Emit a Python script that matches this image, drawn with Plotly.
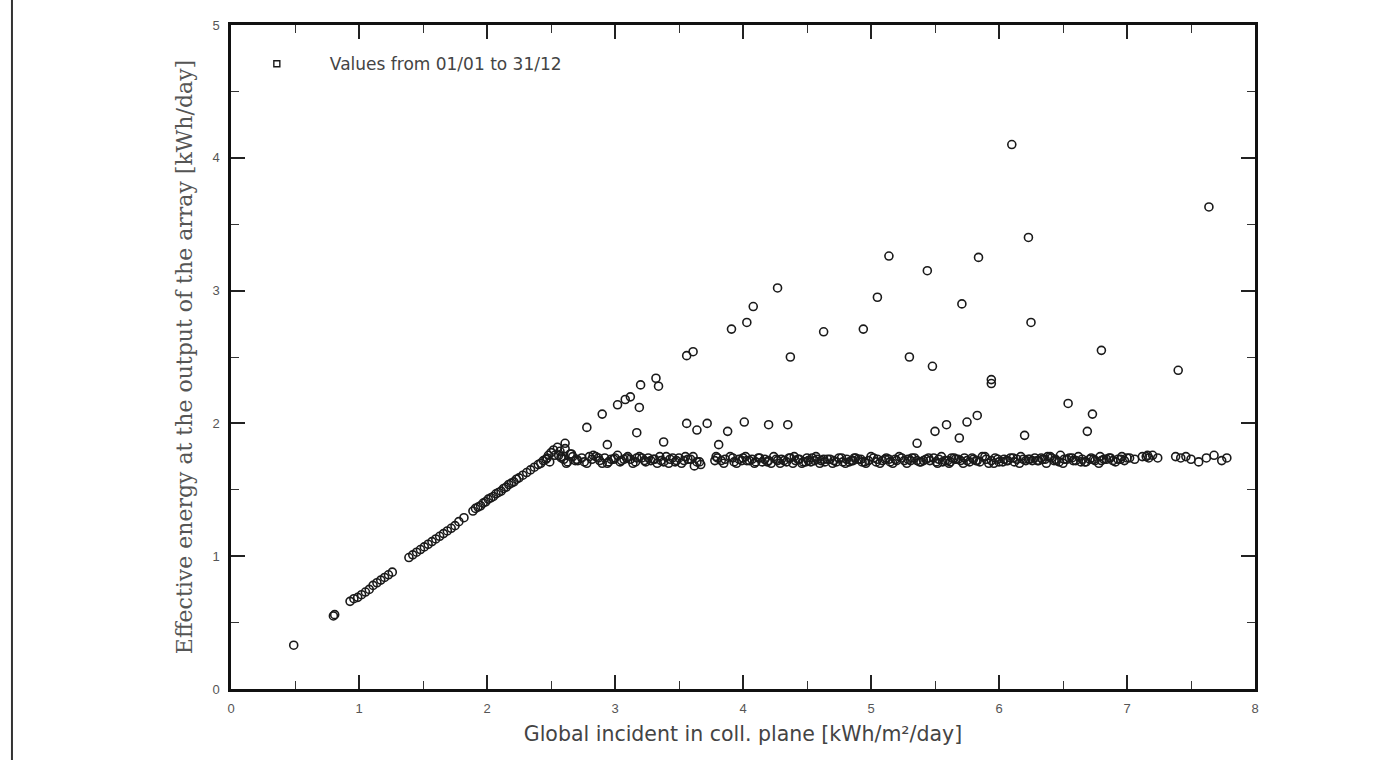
import plotly.graph_objects as go

# Linear (below saturation) part
lin_x = [0.49, 0.80, 0.81, 0.93, 0.96, 0.99, 1.02, 1.05, 1.08, 1.11, 1.14, 1.17, 1.20, 1.23, 1.26,
         1.39, 1.42, 1.45, 1.48, 1.51, 1.54, 1.57, 1.60, 1.63, 1.66, 1.69, 1.72, 1.75, 1.78, 1.82,
         1.89, 1.91, 1.93, 1.95, 1.97, 1.99, 2.01, 2.03, 2.05, 2.07, 2.09, 2.11, 2.13, 2.15, 2.17,
         2.19, 2.21, 2.23, 2.25, 2.28, 2.31, 2.34, 2.37, 2.40, 2.42, 2.44, 2.46, 2.47, 2.48, 2.49]
lin_y = [0.33, 0.55, 0.56, 0.66, 0.68, 0.69, 0.71, 0.73, 0.75, 0.78, 0.80, 0.82, 0.84, 0.86, 0.88,
         0.99, 1.01, 1.03, 1.05, 1.07, 1.09, 1.11, 1.13, 1.15, 1.17, 1.19, 1.21, 1.23, 1.26, 1.29,
         1.34, 1.36, 1.37, 1.38, 1.40, 1.41, 1.43, 1.44, 1.45, 1.47, 1.48, 1.49, 1.51, 1.52, 1.54,
         1.55, 1.56, 1.58, 1.59, 1.61, 1.63, 1.65, 1.67, 1.69, 1.70, 1.72, 1.73, 1.74, 1.76, 1.71]

# Saturation plateau
plat_x = [2.56, 2.60, 2.63, 2.67, 2.71, 2.74, 2.78, 2.82, 2.85, 2.88,
          2.92, 2.95, 2.99, 3.02, 3.05, 3.09, 3.12, 3.16, 3.19, 3.23,
          3.26, 3.30, 3.33, 3.36, 3.40, 3.43, 3.47, 3.50, 3.54, 3.57,
          3.61, 3.64, 3.67, 3.80, 3.83, 3.86, 3.90, 3.93, 3.97, 4.00,
          4.03, 4.07, 4.10, 4.13, 4.17, 4.20, 4.24, 4.27, 4.30, 4.34,
          4.37, 4.41, 4.44, 4.47, 4.51, 4.54, 4.58, 4.61, 4.64, 4.68,
          4.71, 4.75, 4.78, 4.81, 4.85, 4.88, 4.92, 4.95, 4.98, 5.02,
          5.05, 5.09, 5.12, 5.15, 5.19, 5.22, 5.26, 5.29, 5.32, 5.36,
          5.39, 5.43, 5.46, 5.49, 5.53, 5.56, 5.60, 5.63, 5.66, 5.70,
          5.73, 5.77, 5.80, 5.83, 5.87, 5.90, 5.94, 5.97, 6.00, 6.04,
          6.07, 6.11, 6.14, 6.17, 6.21, 6.24, 6.28, 6.31, 6.34, 6.38,
          6.41, 6.45, 6.48, 6.51, 6.55, 6.58, 6.62, 6.65, 6.68, 6.72,
          6.75, 6.79, 6.82, 6.86, 6.89, 6.93, 6.96, 7.00]
plat_y = [1.76, 1.73, 1.71, 1.75, 1.72, 1.74, 1.70, 1.73, 1.75, 1.72,
          1.74, 1.71, 1.73, 1.76, 1.72, 1.74, 1.73, 1.71, 1.75, 1.72,
          1.74, 1.73, 1.70, 1.72, 1.75, 1.73, 1.71, 1.74, 1.72, 1.73,
          1.75, 1.71, 1.69, 1.74, 1.72, 1.73, 1.75, 1.71, 1.73, 1.74,
          1.72, 1.73, 1.71, 1.74, 1.73, 1.72, 1.75, 1.72, 1.73, 1.71,
          1.74, 1.72, 1.73, 1.71, 1.72, 1.74, 1.73, 1.72, 1.71, 1.73,
          1.72, 1.74, 1.71, 1.73, 1.72, 1.74, 1.73, 1.71, 1.72, 1.74,
          1.73, 1.72, 1.74, 1.71, 1.73, 1.75, 1.72, 1.73, 1.74, 1.72,
          1.71, 1.73, 1.72, 1.74, 1.73, 1.71, 1.72, 1.74, 1.73, 1.72,
          1.74, 1.71, 1.73, 1.72, 1.75, 1.73, 1.72, 1.74, 1.71, 1.73,
          1.72, 1.74, 1.73, 1.75, 1.72, 1.73, 1.74, 1.72, 1.73, 1.75,
          1.74, 1.72, 1.76, 1.73, 1.74, 1.72, 1.75, 1.73, 1.71, 1.74,
          1.72, 1.75, 1.73, 1.74, 1.72, 1.73, 1.75, 1.74]

band_x = [2.50, 2.52, 2.53, 2.55, 2.57, 2.58, 2.61, 2.65, 2.69, 2.80,
          2.90, 3.00, 3.07, 3.14, 3.21, 3.28, 3.38, 3.45, 3.52, 3.59,
          3.62, 3.78, 3.95, 4.05, 4.15, 4.22, 4.32, 4.39, 4.43, 4.49,
          4.56, 4.60, 4.66, 4.73, 4.80, 4.86, 4.90, 4.96, 5.04, 5.11,
          5.20, 5.28, 5.34, 5.41, 5.51, 5.58, 5.61, 5.68, 5.75, 5.85,
          5.92, 5.99, 6.06, 6.12, 6.19, 6.26, 6.33, 6.36, 6.43, 6.47,
          6.53, 6.60, 6.67, 6.74, 6.80, 6.87, 6.95, 7.15, 7.16]
band_y = [1.78, 1.80, 1.76, 1.82, 1.79, 1.75, 1.81, 1.77, 1.72, 1.75,
          1.70, 1.74, 1.73, 1.70, 1.74, 1.72, 1.71, 1.74, 1.70, 1.73,
          1.68, 1.72, 1.70, 1.72, 1.71, 1.70, 1.72, 1.70, 1.73, 1.71,
          1.72, 1.70, 1.73, 1.71, 1.70, 1.72, 1.73, 1.70, 1.71, 1.73,
          1.72, 1.70, 1.74, 1.72, 1.71, 1.72, 1.70, 1.73, 1.72, 1.71,
          1.70, 1.73, 1.72, 1.71, 1.73, 1.72, 1.74, 1.73, 1.72, 1.71,
          1.73, 1.72, 1.71, 1.73, 1.72, 1.74, 1.73, 1.75, 1.76]

band2_x = [2.58, 2.62, 2.66, 2.70, 2.76, 2.83, 2.87, 2.94, 2.97, 3.04,
           3.10, 3.17, 3.24, 3.31, 3.35, 3.42, 3.48, 3.55, 3.66, 3.79,
           3.85, 3.92, 3.99, 4.02, 4.09, 4.12, 4.19, 4.26, 4.29, 4.36,
           4.40, 4.46, 4.50, 4.53, 4.57, 4.63, 4.70, 4.77, 4.83, 4.87,
           4.93, 5.00, 5.07, 5.14, 5.17, 5.24, 5.31, 5.38, 5.45, 5.52,
           5.55, 5.62, 5.65, 5.72, 5.79, 5.82, 5.89, 5.96, 6.03, 6.09,
           6.16, 6.23, 6.30, 6.37, 6.40, 6.44, 6.50, 6.57, 6.64, 6.71,
           6.78, 6.84, 6.91, 6.98, 7.02, 7.06]
band2_y = [1.74, 1.70, 1.77, 1.73, 1.71, 1.76, 1.74, 1.70, 1.73, 1.71,
           1.75, 1.74, 1.71, 1.73, 1.75, 1.70, 1.72, 1.75, 1.71, 1.75,
           1.70, 1.74, 1.72, 1.75, 1.70, 1.74, 1.71, 1.73, 1.70, 1.74,
           1.75, 1.70, 1.74, 1.71, 1.75, 1.73, 1.70, 1.74, 1.71, 1.74,
           1.71, 1.75, 1.70, 1.73, 1.70, 1.74, 1.72, 1.71, 1.74, 1.70,
           1.75, 1.71, 1.74, 1.70, 1.74, 1.72, 1.75, 1.70, 1.71, 1.74,
           1.70, 1.73, 1.72, 1.70, 1.75, 1.73, 1.70, 1.74, 1.71, 1.73,
           1.70, 1.73, 1.71, 1.72, 1.74, 1.73]

tail_x = [7.12, 7.17, 7.20, 7.24, 7.38, 7.42, 7.46, 7.50, 7.56, 7.62, 7.68, 7.74, 7.78]
tail_y = [1.75, 1.74, 1.76, 1.74, 1.75, 1.74, 1.75, 1.73, 1.71, 1.74, 1.76, 1.72, 1.74]

# Scattered days above the saturation level
high_x = [4.27, 4.08, 4.03, 3.91, 3.61, 3.56, 4.37, 4.63, 4.94, 5.05,
          3.32, 3.34, 3.20, 3.12, 3.08, 3.02, 3.19, 2.90, 2.78, 3.17,
          3.38, 3.56, 3.64, 3.72, 3.88, 3.81, 4.01, 4.20, 4.35, 2.94,
          6.10, 7.64, 6.23, 5.14, 5.84, 5.44, 5.71, 6.25, 6.80, 5.30,
          5.48, 7.40, 5.94, 5.94, 6.54, 6.73, 5.83, 5.75, 5.59, 5.50,
          5.69, 6.69, 6.20, 5.36, 2.61]
high_y = [3.02, 2.88, 2.76, 2.71, 2.54, 2.51, 2.50, 2.69, 2.71, 2.95,
          2.34, 2.28, 2.29, 2.20, 2.18, 2.14, 2.12, 2.07, 1.97, 1.93,
          1.86, 2.00, 1.95, 2.00, 1.94, 1.84, 2.01, 1.99, 1.99, 1.84,
          4.10, 3.63, 3.40, 3.26, 3.25, 3.15, 2.90, 2.76, 2.55, 2.50,
          2.43, 2.40, 2.33, 2.30, 2.15, 2.07, 2.06, 2.01, 1.99, 1.94,
          1.89, 1.94, 1.91, 1.85, 1.85]

x_all = lin_x + plat_x + band_x + band2_x + tail_x + high_x
y_all = lin_y + plat_y + band_y + band2_y + tail_y + high_y

legend_label = "Values from 01/01 to 31/12"
x_ticks = [0, 1, 2, 3, 4, 5, 6, 7, 8]
y_ticks = [0, 1, 2, 3, 4, 5]

fig = go.Figure()
fig.add_trace(go.Scatter(
    x=x_all, y=y_all, mode="markers", showlegend=False,
    marker=dict(symbol="circle-open", size=8, color="#1a1a1a", line=dict(width=1.6)),
    hoverinfo="x+y",
))
fig.add_trace(go.Scatter(
    x=[None], y=[None], mode="markers", name=legend_label,
    marker=dict(symbol="square-open", size=6, color="#1a1a1a", line=dict(width=1.4)),
))

axis_common = dict(
    showgrid=False, zeroline=False, showline=True, linecolor="#111", linewidth=2.5,
    mirror="allticks", ticks="inside", ticklen=14, tickwidth=1.5, tickcolor="#222",
    tickfont=dict(family="Liberation Sans, Arial", size=13, color="#555"),
    ticklabelstandoff=6,
    minor=dict(ticks="inside", ticklen=8, tickwidth=1.2, tickcolor="#333", dtick=0.5),
)

fig.update_layout(
    width=1390, height=760,
    margin=dict(l=231, r=135, t=25, b=71),
    paper_bgcolor="white", plot_bgcolor="white",
    xaxis=dict(range=[0, 8], tickvals=x_ticks, **axis_common,
               title=dict(text="Global incident in coll. plane [kWh/m²/day]",
                          font=dict(family="DejaVu Sans", size=20.5, color="#444"),
                          standoff=12)),
    yaxis=dict(range=[0, 5], tickvals=y_ticks, **axis_common,
               title=dict(text="Effective energy at the output of the array [kWh/day]",
                          font=dict(family="DejaVu Serif", size=22, color="#555"),
                          standoff=14)),
    legend=dict(x=-0.007, y=0.968, xanchor="left", yanchor="top", bgcolor="rgba(0,0,0,0)",
                font=dict(family="DejaVu Sans", size=17, color="#444"),
                itemwidth=96),
)

# page frame line at left edge
fig.add_shape(type="line", xref="paper", yref="paper",
              x0=-0.2139, x1=-0.2139, y0=-0.12, y1=1.05,
              line=dict(color="#333", width=2))

fig.write_html("out.html")
